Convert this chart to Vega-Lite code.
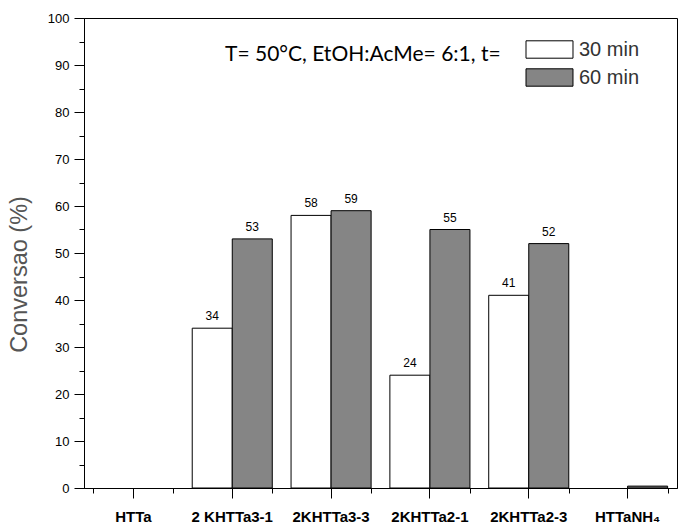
{
  "$schema": "https://vega.github.io/schema/vega-lite/v6.json",
  "width": 593,
  "height": 470,
  "autosize": {"type": "none"},
  "padding": {"left": 84, "top": 18, "right": 3, "bottom": 39},
  "background": "white",
  "title": {
    "text": "T= 50°C, EtOH:AcMe= 6:1, t=",
    "orient": "top",
    "anchor": "start",
    "frame": "group",
    "dx": 141,
    "offset": -70,
    "font": "Lato",
    "fontSize": 21,
    "fontWeight": "normal",
    "color": "black",
    "baseline": "alphabetic"
  },
  "config": {
    "view": {"stroke": "black", "strokeWidth": 1},
    "axis": {
      "domainColor": "black",
      "tickColor": "black",
      "labelColor": "black",
      "grid": false
    }
  },
  "data": {
    "values": [
      {"catalyst": "HTTa", "time": "30 min", "value": 0},
      {"catalyst": "HTTa", "time": "60 min", "value": 0},
      {"catalyst": "2 KHTTa3-1", "time": "30 min", "value": 34},
      {"catalyst": "2 KHTTa3-1", "time": "60 min", "value": 53},
      {"catalyst": "2KHTTa3-3", "time": "30 min", "value": 58},
      {"catalyst": "2KHTTa3-3", "time": "60 min", "value": 59},
      {"catalyst": "2KHTTa2-1", "time": "30 min", "value": 24},
      {"catalyst": "2KHTTa2-1", "time": "60 min", "value": 55},
      {"catalyst": "2KHTTa2-3", "time": "30 min", "value": 41},
      {"catalyst": "2KHTTa2-3", "time": "60 min", "value": 52},
      {"catalyst": "HTTaNH₄", "time": "30 min", "value": 0},
      {"catalyst": "HTTaNH₄", "time": "60 min", "value": 0.4}
    ]
  },
  "resolve": {"axis": {"x": "independent", "y": "independent"}},
  "layer": [
    {
      "transform": [{"filter": "datum.value > 0"}],
      "mark": {"type": "bar", "stroke": "black", "strokeWidth": 1},
      "encoding": {
        "x": {
          "field": "catalyst",
          "type": "nominal",
          "sort": ["HTTa", "2 KHTTa3-1", "2KHTTa3-3", "2KHTTa2-1", "2KHTTa2-3", "HTTaNH₄"],
          "scale": {
            "domain": ["HTTa", "2 KHTTa3-1", "2KHTTa3-3", "2KHTTa2-1", "2KHTTa2-3", "HTTaNH₄"],
            "paddingInner": 0.19,
            "paddingOuter": 0.095
          },
          "axis": {
            "orient": "bottom",
            "title": null,
            "labelAngle": 0,
            "labelFont": "Liberation Sans",
            "labelFontSize": 15,
            "labelFontWeight": "bold",
            "labelPadding": 11,
            "tickSize": 10,
            "domainWidth": 1
          }
        },
        "xOffset": {
          "field": "time",
          "type": "nominal",
          "scale": {"domain": ["30 min", "60 min"], "paddingInner": 0}
        },
        "y": {
          "field": "value",
          "type": "quantitative",
          "scale": {"domain": [0, 100], "nice": false},
          "axis": {
            "orient": "left",
            "values": [0, 10, 20, 30, 40, 50, 60, 70, 80, 90, 100],
            "title": "Conversao (%)",
            "titleFont": "Liberation Sans",
            "titleFontSize": 23.5,
            "titleFontWeight": "normal",
            "titleColor": "#555555",
            "titleX": -58,
            "titleY": 256,
            "titleBaseline": "alphabetic",
            "labelFont": "Liberation Sans",
            "labelFontSize": 13,
            "labelPadding": 5,
            "tickSize": 10,
            "domainWidth": 1
          }
        },
        "fill": {
          "field": "time",
          "type": "nominal",
          "scale": {"domain": ["30 min", "60 min"], "range": ["white", "#858585"]},
          "legend": {
            "title": null,
            "orient": "none",
            "legendX": 453,
            "legendY": 19,
            "padding": 0,
            "symbolType": "M-2,-0.74H2V0.74H-2Z",
            "symbolSize": 552,
            "symbolStrokeColor": "black",
            "symbolStrokeWidth": 1,
            "labelFont": "Liberation Sans",
            "labelFontSize": 20,
            "labelColor": "#333333",
            "labelOffset": 17,
            "rowPadding": 4
          }
        }
      }
    },
    {
      "transform": [{"filter": "datum.value >= 1"}],
      "mark": {"type": "text", "baseline": "bottom", "dy": -5, "font": "Liberation Sans", "fontSize": 12, "color": "black"},
      "encoding": {
        "x": {
          "field": "catalyst",
          "type": "nominal",
          "sort": ["HTTa", "2 KHTTa3-1", "2KHTTa3-3", "2KHTTa2-1", "2KHTTa2-3", "HTTaNH₄"],
          "axis": {
            "orient": "bottom",
            "title": null,
            "labels": false,
            "domain": false,
            "tickBand": "extent",
            "tickSize": 5
          }
        },
        "xOffset": {"field": "time", "type": "nominal"},
        "y": {
          "field": "value",
          "type": "quantitative",
          "axis": {
            "orient": "left",
            "values": [5, 15, 25, 35, 45, 55, 65, 75, 85, 95],
            "title": null,
            "labels": false,
            "domain": false,
            "tickSize": 5
          }
        },
        "text": {"field": "value", "type": "quantitative"}
      }
    }
  ]
}
